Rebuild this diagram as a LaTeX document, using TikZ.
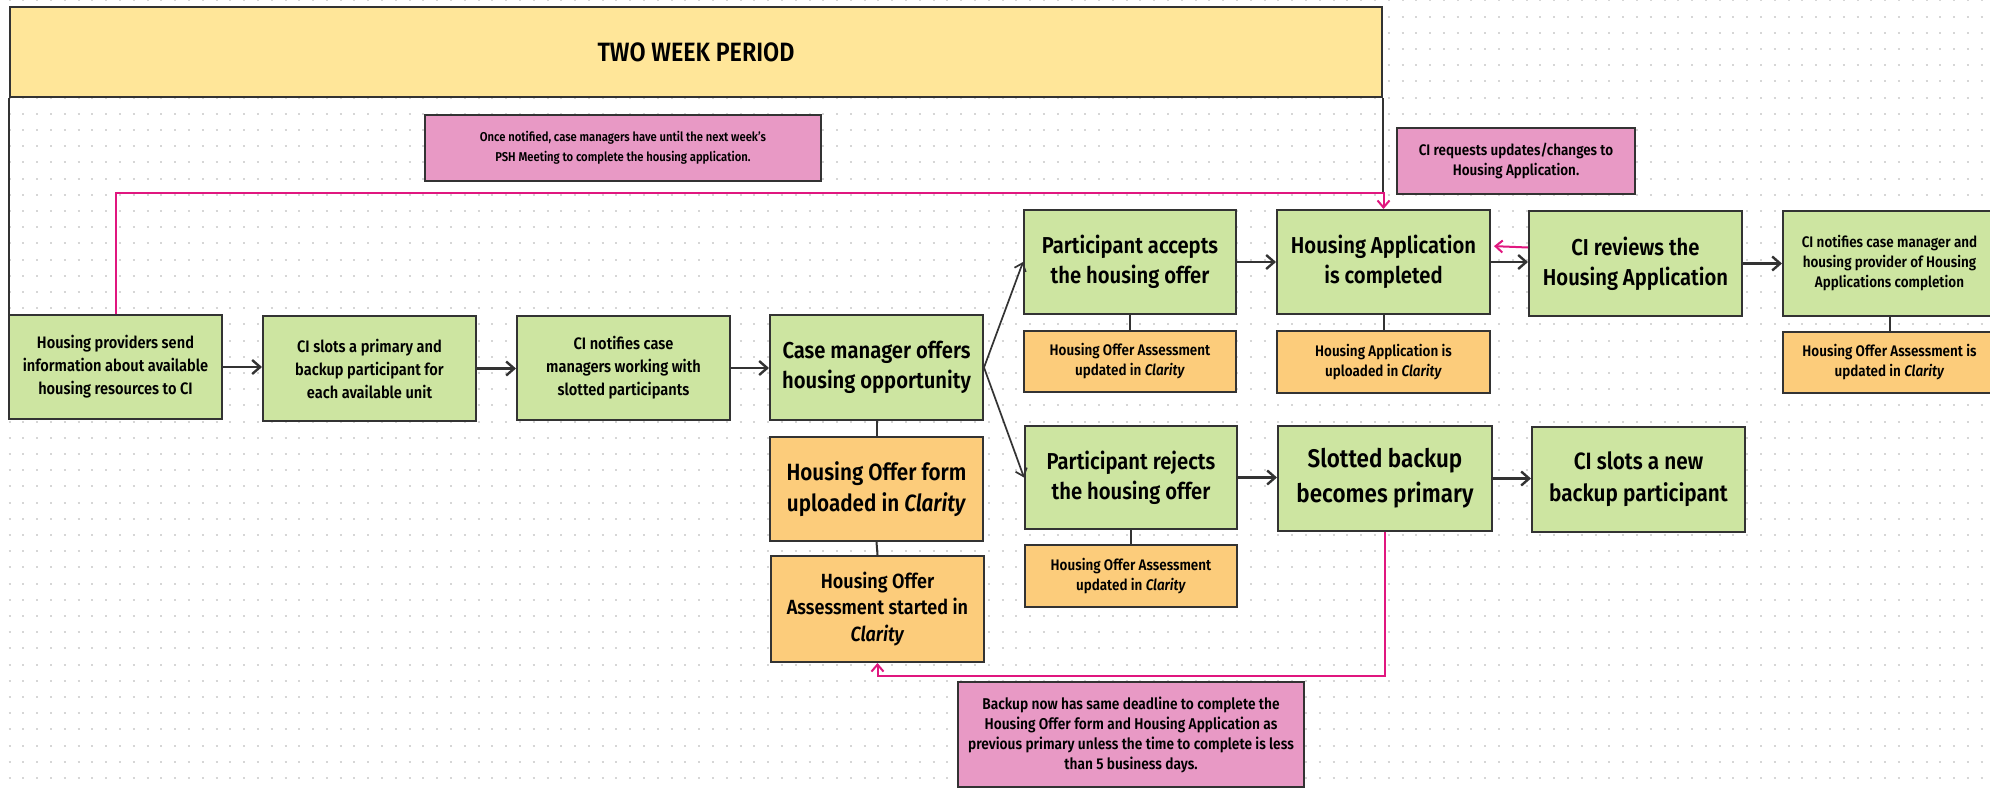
\documentclass[tikz,border=0pt]{standalone}
\usepackage{fontspec}
\setmainfont{Fira Sans}[UprightFont={* SemiBold},ItalicFont={* SemiBold Italic},FakeStretch=0.88]
\usetikzlibrary{arrows.meta}

\definecolor{edge}{HTML}{333333}
\definecolor{gfill}{HTML}{CDE5A1}
\definecolor{ofill}{HTML}{FCCC7B}
\definecolor{pfill}{HTML}{E899C5}
\definecolor{yfill}{HTML}{FFE699}
\definecolor{plink}{HTML}{E0177F}
\definecolor{griddot}{HTML}{D6D6D6}

% name, style, left, top, right, bottom, text
\newcommand{\place}[7]{%
  \node[#2, minimum width={#5-#3}, minimum height={#6-#4}] (#1) at ({(#3+#5)/2},{(#4+#6)/2}) {#7};}

\begin{document}
\begin{tikzpicture}[x=1pt,y=-1pt,
  box/.style={draw=edge, line width=2pt, align=center, inner sep=0pt, text=black},
  gbox/.style={box, fill=gfill},
  obox/.style={box, fill=ofill},
  pbox/.style={box, fill=pfill},
  titlebox/.style={box, fill=yfill, font=\fontsize{26.5}{30}\selectfont},
  fbig/.style={font=\fontsize{23}{30}\selectfont},
  fmid/.style={font=\fontsize{16.6}{23}\selectfont},
  fsm/.style={font=\fontsize{15.3}{20}\selectfont},
  fnote/.style={font=\fontsize{12.8}{19.5}\selectfont},
  fnotem/.style={font=\fontsize{15.3}{20}\selectfont},
  fnotel/.style={font=\fontsize{15.6}{20}\selectfont},
  fform/.style={font=\fontsize{23.5}{31.7}\selectfont},
  fstart/.style={font=\fontsize{20.5}{26.7}\selectfont},
  fslot/.style={font=\fontsize{25.5}{35}\selectfont},
  fnew/.style={font=\fontsize{23.6}{31.7}\selectfont},
  flow/.style={draw=edge, line width=2.4pt, -{Straight Barb[length=8pt,width=14pt]}},
  thinflow/.style={draw=edge, line width=1.7pt, -{Straight Barb[length=7pt,width=12pt]}},
  tie/.style={draw=edge, line width=2pt},
  frame/.style={draw=edge, line width=1.6pt},
  plinkline/.style={draw=plink, line width=2pt},
  plinkarrow/.style={plinkline, -{Straight Barb[length=7pt,width=12pt]}}
]
\useasboundingbox (0,0) rectangle (1990,788);
\clip (0,0) rectangle (1990,788);
\fill[white] (0,0) rectangle (1990,788);

% dotted canvas grid
\foreach \r in {0,...,48}
  \draw[griddot, line width=2pt, dash pattern=on 2pt off 11.79pt]
    (8.7,{0.4+16.2*\r}) -- (1990,{0.4+16.2*\r});

% period header
\place{title}{titlebox}{10}{7}{1382}{97}{TWO WEEK PERIOD}

% notes
\place{p1}{pbox,fnote}{425}{115}{821}{181}{Once notified, case managers have until the next week's\\PSH Meeting to complete the housing application.}
\place{p2}{pbox,fnotem}{1397}{128}{1635}{194}{CI requests updates/changes to\\Housing Application.}
\place{p3}{pbox,fnotel}{958}{682}{1304}{787}{Backup now has same deadline to complete the\\Housing Offer form and Housing Application as\\previous primary unless the time to complete is less\\than 5 business days.}

% main flow
\place{n1}{gbox,fmid}{9}{315}{222}{419}{Housing providers send\\information about available\\housing resources to CI}
\place{n2}{gbox,fmid}{263}{316}{476}{421}{CI slots a primary and\\backup participant for\\each available unit}
\place{n3}{gbox,fmid}{517}{316}{730}{420}{CI notifies case\\managers working with\\slotted participants}
\place{n4}{gbox,fbig}{770}{315}{983}{420}{Case manager offers\\housing opportunity}
\place{o4a}{obox,fform}{770}{437}{983}{541}{Housing Offer form\\uploaded in \textit{Clarity}}
\place{o4b}{obox,fstart}{771}{556}{984}{662}{Housing Offer\\Assessment started in\\\textit{Clarity}}

% accept branch
\place{acc}{gbox,fbig}{1024}{210}{1236}{314}{Participant accepts\\the housing offer}
\place{oacc}{obox,fsm}{1024}{331}{1236}{392}{Housing Offer Assessment\\updated in \textit{Clarity}}
\place{hac}{gbox,fbig}{1277}{210}{1490}{314}{Housing Application\\is completed}
\place{ohac}{obox,fsm}{1277}{331}{1490}{393}{Housing Application is\\uploaded in \textit{Clarity}}
\place{rev}{gbox,fbig}{1529}{211}{1742}{316}{CI reviews the\\Housing Application}
\place{ntf}{gbox,fsm}{1783}{211}{1996}{316}{CI notifies case manager and\\housing provider of Housing\\Applications completion}
\place{ontf}{obox,fsm}{1783}{332}{1996}{393}{Housing Offer Assessment is\\updated in \textit{Clarity}}

% reject branch
\place{rej}{gbox,fbig}{1025}{426}{1237}{529}{Participant rejects\\the housing offer}
\place{orej}{obox,fsm}{1025}{545}{1237}{607}{Housing Offer Assessment\\updated in \textit{Clarity}}
\place{slb}{gbox,fslot}{1278}{426}{1492}{531}{Slotted backup\\becomes primary}
\place{nbk}{gbox,fnew}{1532}{427}{1745}{532}{CI slots a new\\backup participant}

% period bracket
\coordinate (topbus) at (700,193);
\draw[frame] (title.south west) -- (title.south west |- n1.north);
\draw[frame] (title.south east) -- (title.south east |- topbus);

% flow arrows
\draw[flow] (n1.east) -- (n1.east -| n2.west);
\draw[flow] (n2.east) -- (n2.east -| n3.west);
\draw[flow] (n3.east) -- (n3.east -| n4.west);
\draw[thinflow] (n4.east) -- (acc.west);
\draw[thinflow] (n4.east) -- (rej.west);
\draw[flow] (acc.east) -- (acc.east -| hac.west);
\draw[flow] (hac.east) -- (hac.east -| rev.west);
\draw[flow] (rev.east) -- (rev.east -| ntf.west);
\draw[flow] (rej.east) -- (rej.east -| slb.west);
\draw[flow] (slb.east) -- (slb.east -| nbk.west);

% attached records
\draw[tie] (n4.south) -- (o4a.north);
\draw[tie] (o4a.south) -- (o4b.north);
\draw[tie] (acc.south) -- (oacc.north);
\draw[tie] (hac.south) -- (ohac.north);
\draw[tie] (ntf.south) -- (ontf.north);
\draw[tie] (rej.south) -- (orej.north);

% feedback links
\draw[plinkarrow] (n1.north) |- (topbus) -| (hac.north);
\draw[plinkarrow, shorten >=3pt] ([yshift=16pt]rev.west) -- ([yshift=16pt]hac.east);
\coordinate (botbus) at (1100,676);
\draw[plinkarrow] (slb.south) |- (botbus) -| (o4b.south);
\end{tikzpicture}
\end{document}
